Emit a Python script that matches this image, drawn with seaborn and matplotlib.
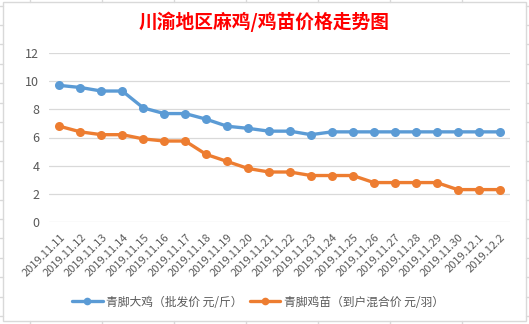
import matplotlib
matplotlib.use("Agg")
import matplotlib.pyplot as plt
import matplotlib.transforms as mtransforms
from matplotlib.patches import Rectangle
from matplotlib.lines import Line2D
import seaborn as sns
import pandas as pd

# ---- data -------------------------------------------------------------
dates = [
    "2019.11.11", "2019.11.12", "2019.11.13", "2019.11.14", "2019.11.15",
    "2019.11.16", "2019.11.17", "2019.11.18", "2019.11.19", "2019.11.20",
    "2019.11.21", "2019.11.22", "2019.11.23", "2019.11.24", "2019.11.25",
    "2019.11.26", "2019.11.27", "2019.11.28", "2019.11.29", "2019.11.30",
    "2019.12.1", "2019.12.2",
]
broiler_price = [9.7, 9.55, 9.3, 9.3, 8.1, 7.7, 7.7, 7.3, 6.8, 6.65, 6.45,
                 6.45, 6.2, 6.4, 6.4, 6.4, 6.4, 6.4, 6.4, 6.4, 6.4, 6.4]
chick_price = [6.8, 6.4, 6.2, 6.2, 5.9, 5.75, 5.75, 4.8, 4.3, 3.8, 3.55,
               3.55, 3.3, 3.3, 3.3, 2.8, 2.8, 2.8, 2.8, 2.3, 2.3, 2.3]
series_names = ["青脚大鸡（批发价 元/斤）", "青脚鸡苗（到户混合价 元/羽）"]
y_ticks = [0, 2, 4, 6, 8, 10, 12]
title = "川渝地区麻鸡/鸡苗价格走势图"

colors = ["#5B9BD5", "#ED7D31"]
text_gray = "#595959"
grid_gray = "#D9D9D9"

# ---- style ------------------------------------------------------------
sns.set_theme(style="white")
plt.rcParams["font.family"] = ["Noto Sans CJK SC", "DejaVu Sans"]

df = pd.DataFrame({
    "date": dates * 2,
    "price": broiler_price + chick_price,
    "series": [series_names[0]] * len(dates) + [series_names[1]] * len(dates),
})

W, H = 529, 324
fig = plt.figure(figsize=(W / 100, H / 100), dpi=100)
fig.patch.set_facecolor("white")

# plot area in pixel terms: x 49..510, y 53..222
ax = fig.add_axes([49 / W, 1 - 222 / H, (510 - 49) / W, (222 - 53) / H])
sns.lineplot(data=df, x="date", y="price", hue="series", palette=colors,
             marker="o", markersize=6.5, markeredgewidth=0, linewidth=2.4,
             sort=False, legend=False, ax=ax)

ax.set_xlim(-0.5, len(dates) - 0.5)
ax.set_ylim(0, 12)
ax.set_yticks(y_ticks)
ax.set_yticklabels([str(v) for v in y_ticks], fontsize=9, color=text_gray)
ax.yaxis.grid(True, color=grid_gray, linewidth=0.9)
ax.xaxis.grid(False)
ax.set_xlabel("")
ax.set_ylabel("")
for s in ax.spines.values():
    s.set_visible(False)
ax.tick_params(axis="both", length=0)
ax.tick_params(axis="y", pad=7)

ax.set_xticks(range(len(dates)))
ax.set_xticklabels(dates, rotation=45, ha="right", va="center",
                   rotation_mode="anchor", fontsize=8, color=text_gray)
ax.tick_params(axis="x", pad=10)
offset = mtransforms.ScaledTranslation(4 / 100, 0, fig.dpi_scale_trans)
for lbl in ax.get_xticklabels():
    lbl.set_transform(lbl.get_transform() + offset)

# title
fig.text(264 / W, 1 - 22 / H, title, ha="center", va="center",
         color="#FF0000", fontsize=13.5, fontweight="bold")

# legend
handles = [Line2D([0], [0], color=c, linewidth=2.4, marker="o",
                  markersize=5.5, markeredgewidth=0) for c in colors]
fig.legend(handles, series_names, loc="center", ncol=2, frameon=False,
           bbox_to_anchor=(258 / W, 1 - 302 / H), fontsize=8.5,
           labelcolor=text_gray, handlelength=2.6, handletextpad=0.3,
           columnspacing=0.6)

# chart frame
fig.patches.append(Rectangle((3 / W, 1 - 321 / H), (526 - 3) / W, (321 - 2) / H,
                             transform=fig.transFigure, fill=False,
                             edgecolor=grid_gray, linewidth=1.0))

# worksheet cell lines around the frame
for k in range(7):
    x = (30 + 72 * k) / W
    fig.add_artist(Line2D([x, x], [1, 1 - 2 / H], transform=fig.transFigure,
                          color=grid_gray, linewidth=1.0))
    fig.add_artist(Line2D([x, x], [1 - 321 / H, 0], transform=fig.transFigure,
                          color=grid_gray, linewidth=1.0))
for k in range(-1, 16):
    y = 1 - (25 + 19.4 * k) / H
    fig.add_artist(Line2D([0, 3 / W], [y, y], transform=fig.transFigure,
                          color=grid_gray, linewidth=1.0))
    fig.add_artist(Line2D([526 / W, 1], [y, y], transform=fig.transFigure,
                          color=grid_gray, linewidth=1.0))

fig.savefig("out.png", dpi=100, facecolor="white")
